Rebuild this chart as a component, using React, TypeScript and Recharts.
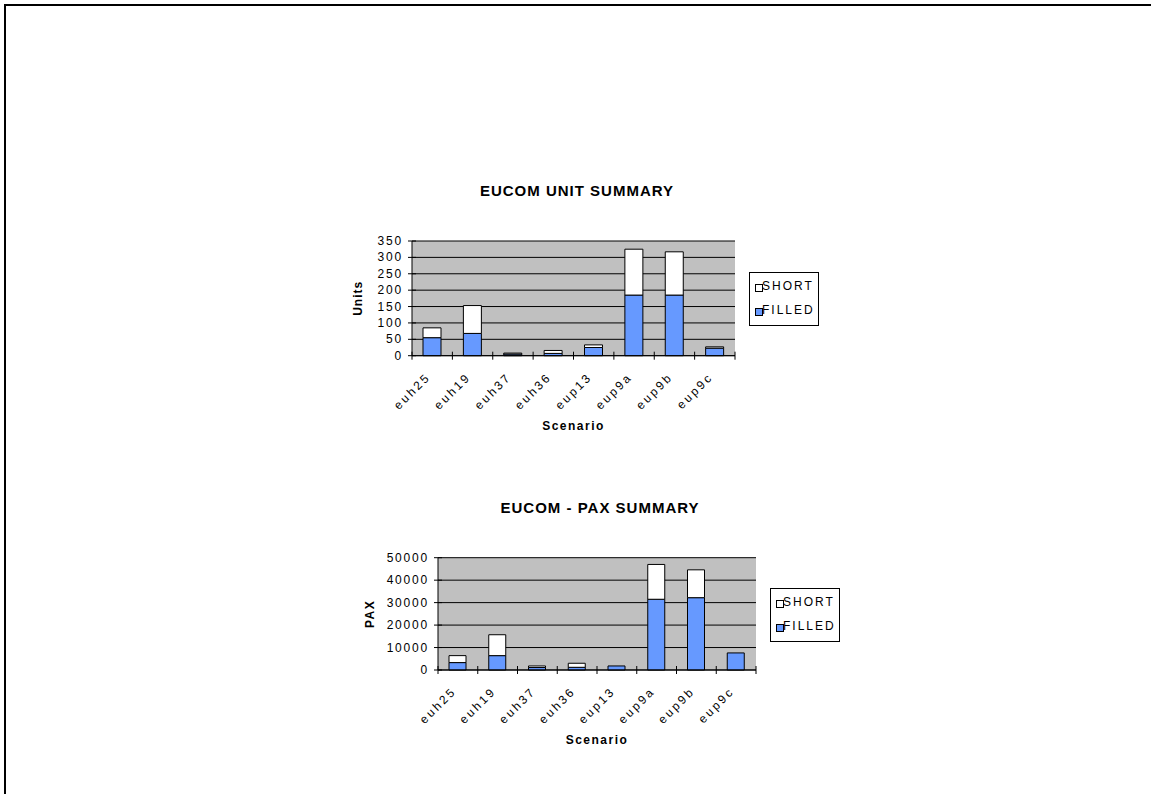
import { Bar, BarChart, CartesianGrid, XAxis, YAxis } from "recharts";

const SCENARIOS = ["euh25", "euh19", "euh37", "euh36", "eup13", "eup9a", "eup9b", "eup9c"];
const UNITS_FILLED = [55, 68, 5, 7, 25, 185, 185, 23];
const UNITS_SHORT = [30, 85, 3, 9, 8, 140, 132, 4];
const PAX_FILLED = [3300, 6400, 1100, 1200, 1800, 31500, 32200, 7600];
const PAX_SHORT = [3100, 9300, 700, 1800, 0, 15500, 12400, 0];
const UNITS_TICKS = [0, 50, 100, 150, 200, 250, 300, 350];
const PAX_TICKS = [0, 10000, 20000, 30000, 40000, 50000];

const FONT = "Arial, 'Liberation Sans', sans-serif";
const BLUE = "#6699FF";

const unitData = SCENARIOS.map((name, i) => ({
  name,
  FILLED: UNITS_FILLED[i],
  SHORT: UNITS_SHORT[i],
}));
const paxData = SCENARIOS.map((name, i) => ({
  name,
  FILLED: PAX_FILLED[i],
  SHORT: PAX_SHORT[i],
}));

const makeXTick = (band: number, count: number) => (props: any) => {
  const { x, y, payload, index } = props;
  const tx = x - 1;
  const ty = y + 22;
  return (
    <g>
      <line x1={x - band / 2} y1={y - 4} x2={x - band / 2} y2={y + 4} stroke="#000" />
      {index === count - 1 && (
        <line x1={x + band / 2} y1={y - 4} x2={x + band / 2} y2={y + 4} stroke="#000" />
      )}
      <text
        x={tx}
        y={ty}
        textAnchor="end"
        transform={`rotate(-45 ${tx} ${ty})`}
        fontFamily={FONT}
        fontSize={12}
        letterSpacing={2.5}
        fill="#000"
      >
        {payload.value}
      </text>
    </g>
  );
};

const YTick = (props: any) => {
  const { x, y, payload } = props;
  return (
    <g>
      <line x1={x - 4} y1={y} x2={x + 4} y2={y} stroke="#000" />
      <text
        x={x - 9}
        y={y}
        dy={4}
        textAnchor="end"
        fontFamily={FONT}
        fontSize={12}
        letterSpacing={1.8}
        fill="#000"
      >
        {payload.value}
      </text>
    </g>
  );
};

function Title({ cx, cy, text }: { cx: number; cy: number; text: string }) {
  return (
    <div
      style={{
        position: "absolute",
        left: cx - 200,
        top: cy - 8,
        width: 400,
        lineHeight: "16px",
        textAlign: "center",
        fontFamily: FONT,
        fontWeight: "bold",
        fontSize: 15,
        letterSpacing: 1,
      }}
    >
      {text}
    </div>
  );
}

function LegendBox({ left, top }: { left: number; top: number }) {
  const item = (label: string, color: string, cy: number) => (
    <>
      <div
        style={{
          position: "absolute",
          left: 5,
          top: cy - 2,
          width: 6,
          height: 6,
          border: "1px solid #000",
          background: color,
        }}
      />
      <div
        style={{
          position: "absolute",
          left: 12,
          top: cy - 7,
          lineHeight: "14px",
          fontFamily: FONT,
          fontSize: 12,
          letterSpacing: 2,
        }}
      >
        {label}
      </div>
    </>
  );
  return (
    <div
      style={{
        position: "absolute",
        left,
        top,
        width: 68,
        height: 52,
        border: "1px solid #000",
        background: "#fff",
      }}
    >
      {item("SHORT", "#fff", 13)}
      {item("FILLED", BLUE, 37)}
    </div>
  );
}

const axisLabel = { fontFamily: FONT, fontWeight: "bold", fontSize: 12, fill: "#000" };

export default function App() {
  return (
    <div style={{ position: "absolute", left: 0, top: 0, width: 1151, height: 794, background: "#fff", overflow: "hidden" }}>
      <div
        style={{
          position: "absolute",
          left: 4,
          top: 4,
          width: 1200,
          height: 900,
          borderTop: "2px solid #000",
          borderLeft: "2px solid #000",
        }}
      />

      <Title cx={577} cy={191} text="EUCOM UNIT SUMMARY" />
      <div style={{ position: "absolute", left: 340, top: 170 }}>
        <BarChart
          width={480}
          height={266}
          data={unitData}
          margin={{ top: 71, right: 85, bottom: 4.3, left: 5 }}
          barSize={18}
        >
          <CartesianGrid vertical={false} stroke="#000" fill="#C0C0C0" fillOpacity={1} />
          <XAxis
            dataKey="name"
            interval={0}
            tickLine={false}
            tickSize={0}
            tickMargin={0}
            height={76}
            axisLine={{ stroke: "#000" }}
            tick={makeXTick(323 / 8, SCENARIOS.length)}
            label={{ value: "Scenario", position: "insideBottom", offset: 2, style: { ...axisLabel, letterSpacing: 1.5 } }}
          />
          <YAxis
            width={67}
            domain={[0, 350]}
            ticks={UNITS_TICKS}
            interval={0}
            tickLine={false}
            tickSize={0}
            tickMargin={0}
            axisLine={{ stroke: "#000" }}
            tick={YTick}
            label={{ value: "Units", angle: -90, position: "insideLeft", offset: 13, style: { ...axisLabel, letterSpacing: 1, textAnchor: "middle" } }}
          />
          <Bar dataKey="FILLED" stackId="a" fill={BLUE} stroke="#000" isAnimationActive={false} />
          <Bar dataKey="SHORT" stackId="a" fill="#fff" stroke="#000" isAnimationActive={false} />
        </BarChart>
      </div>
      <LegendBox left={749} top={272} />

      <Title cx={600} cy={508} text="EUCOM - PAX SUMMARY" />
      <div style={{ position: "absolute", left: 360, top: 490 }}>
        <BarChart
          width={480}
          height={260}
          data={paxData}
          margin={{ top: 67.7, right: 84, bottom: 4, left: 5 }}
          barSize={17}
        >
          <CartesianGrid vertical={false} stroke="#000" fill="#C0C0C0" fillOpacity={1} />
          <XAxis
            dataKey="name"
            interval={0}
            tickLine={false}
            tickSize={0}
            tickMargin={0}
            height={76}
            axisLine={{ stroke: "#000" }}
            tick={makeXTick(318 / 8, SCENARIOS.length)}
            label={{ value: "Scenario", position: "insideBottom", offset: 2, style: { ...axisLabel, letterSpacing: 1.5 } }}
          />
          <YAxis
            width={73}
            domain={[0, 50000]}
            ticks={PAX_TICKS}
            interval={0}
            tickLine={false}
            tickSize={0}
            tickMargin={0}
            axisLine={{ stroke: "#000" }}
            tick={YTick}
            label={{ value: "PAX", angle: -90, position: "insideLeft", offset: 5, style: { ...axisLabel, letterSpacing: 1.5, textAnchor: "middle" } }}
          />
          <Bar dataKey="FILLED" stackId="a" fill={BLUE} stroke="#000" isAnimationActive={false} />
          <Bar dataKey="SHORT" stackId="a" fill="#fff" stroke="#000" isAnimationActive={false} />
        </BarChart>
      </div>
      <LegendBox left={770} top={588} />
    </div>
  );
}
